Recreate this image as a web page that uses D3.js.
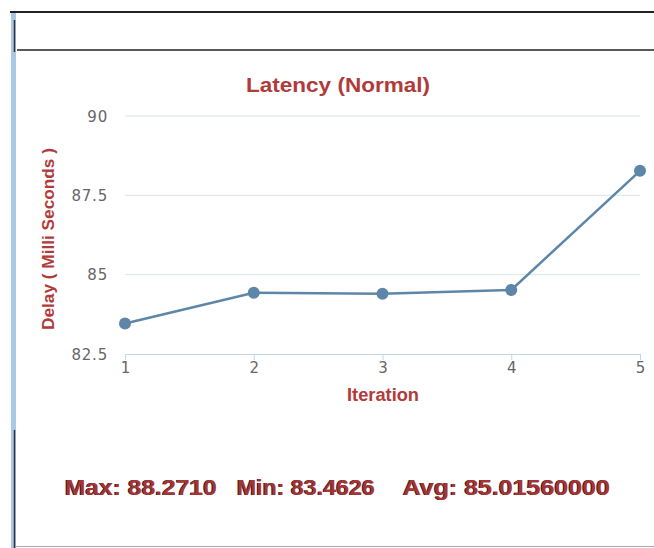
<!DOCTYPE html>
<html>
<head>
<meta charset="utf-8">
<script src="https://cdn.jsdelivr.net/npm/d3@7"></script>
<style>
  body { margin: 0; background: #fff; }
  svg { display: block; }
</style>
</head>
<body>
<svg width="654" height="548"></svg>
<script>
const iterations = [1, 2, 3, 4, 5];
const delays = [83.4626, 84.43, 84.40, 84.52, 88.2710];
const yTicks = [82.5, 85, 87.5, 90];
const statsLabels = ['Max: 88.2710', 'Min: 83.4626', 'Avg: 85.01560000'];

const svg = d3.select('svg');
const red = '#b03b3b';

// frame
svg.append('line').attr('x1', 10).attr('x2', 654).attr('y1', 12).attr('y2', 12)
    .attr('stroke', '#222').attr('stroke-width', 2);
svg.append('rect').attr('x', 11).attr('y', 13).attr('width', 5).attr('height', 535)
    .attr('fill', '#a9c8e6');
svg.append('line').attr('x1', 17).attr('x2', 654).attr('y1', 50).attr('y2', 50)
    .attr('stroke', '#222').attr('stroke-width', 1.5);
svg.append('line').attr('x1', 14.5).attr('x2', 14.5).attr('y1', 20).attr('y2', 52)
    .attr('stroke', '#333').attr('stroke-width', 1.5);
svg.append('line').attr('x1', 14.5).attr('x2', 14.5).attr('y1', 430).attr('y2', 548)
    .attr('stroke', '#333').attr('stroke-width', 1.5);
svg.append('line').attr('x1', 16).attr('x2', 654).attr('y1', 546.5).attr('y2', 546.5)
    .attr('stroke', '#aaa').attr('stroke-width', 1);

const x = d3.scaleLinear().domain([1, 5]).range([125, 640]);
const y = d3.scaleLinear().domain([82.5, 90]).range([354, 116]);

// grid
svg.append('g')
    .selectAll('line')
    .data(yTicks.slice(1))
    .enter()
    .append('line')
    .attr('x1', 125).attr('x2', 640)
    .attr('y1', d => y(d)).attr('y2', d => y(d))
    .attr('stroke', '#d7e5ea').attr('stroke-width', 1);

// y tick labels
svg.append('g')
    .selectAll('text')
    .data(yTicks)
    .enter()
    .append('text')
    .attr('x', 108)
    .attr('y', d => y(d) + 5.5)
    .attr('text-anchor', 'end')
    .attr('font-family', 'DejaVu Sans, sans-serif')
    .attr('font-size', 15)
    .attr('letter-spacing', 0.8)
    .attr('fill', '#666')
    .text(d => d);

// x axis
const xAxis = svg.append('g')
    .attr('transform', `translate(0,${y(82.5)})`)
    .call(d3.axisBottom(x).tickValues(iterations).tickFormat(d3.format('d')).tickSize(6).tickPadding(2));
xAxis.select('.domain').attr('stroke', '#c4d6ea');
xAxis.selectAll('.tick line').attr('stroke', '#c4d6ea');
xAxis.selectAll('.tick text')
    .attr('font-family', 'DejaVu Sans, sans-serif')
    .attr('font-size', 15)
    .attr('fill', '#666');

// line
const line = d3.line()
    .x((d, i) => x(iterations[i]))
    .y(d => y(d));

svg.append('path')
    .datum(delays)
    .attr('d', line)
    .attr('fill', 'none')
    .attr('stroke', '#5d86a8')
    .attr('stroke-width', 2.5);

svg.append('g')
    .selectAll('circle')
    .data(delays)
    .enter()
    .append('circle')
    .attr('cx', (d, i) => x(iterations[i]))
    .attr('cy', d => y(d))
    .attr('r', 6)
    .attr('fill', '#5d86a8');

// titles
svg.append('text')
    .attr('x', 246).attr('y', 92)
    .attr('font-family', 'Liberation Sans, Arial, sans-serif')
    .attr('font-weight', 'bold')
    .attr('font-size', 20)
    .attr('textLength', 184)
    .attr('lengthAdjust', 'spacingAndGlyphs')
    .attr('fill', red)
    .text('Latency (Normal)');

svg.append('text')
    .attr('transform', 'translate(54,330) rotate(-90)')
    .attr('font-family', 'Liberation Sans, Arial, sans-serif')
    .attr('font-weight', 'bold')
    .attr('font-size', 17)
    .attr('textLength', 182)
    .attr('lengthAdjust', 'spacingAndGlyphs')
    .attr('fill', red)
    .text('Delay ( Milli Seconds )');

svg.append('text')
    .attr('x', 347).attr('y', 401)
    .attr('font-family', 'Liberation Sans, Arial, sans-serif')
    .attr('font-weight', 'bold')
    .attr('font-size', 18)
    .attr('textLength', 72)
    .attr('lengthAdjust', 'spacingAndGlyphs')
    .attr('fill', red)
    .text('Iteration');

// stats
const statsX = [65, 237, 403];
const statsW = [152, 138, 207];
const stats = svg.append('g')
    .attr('font-family', 'Liberation Sans, Arial, sans-serif')
    .attr('font-weight', 'bold')
    .attr('font-size', 22);
stats.selectAll('text.shadow')
    .data(statsLabels)
    .enter()
    .append('text')
    .attr('class', 'shadow')
    .attr('x', (d, i) => statsX[i] - 1)
    .attr('y', 495)
    .attr('textLength', (d, i) => statsW[i])
    .attr('lengthAdjust', 'spacingAndGlyphs')
    .attr('fill', '#3a1a1a')
    .text(d => d);
stats.selectAll('text.main')
    .data(statsLabels)
    .enter()
    .append('text')
    .attr('class', 'main')
    .attr('x', (d, i) => statsX[i])
    .attr('y', 495)
    .attr('textLength', (d, i) => statsW[i])
    .attr('lengthAdjust', 'spacingAndGlyphs')
    .attr('fill', '#a53535')
    .text(d => d);
</script>
</body>
</html>
